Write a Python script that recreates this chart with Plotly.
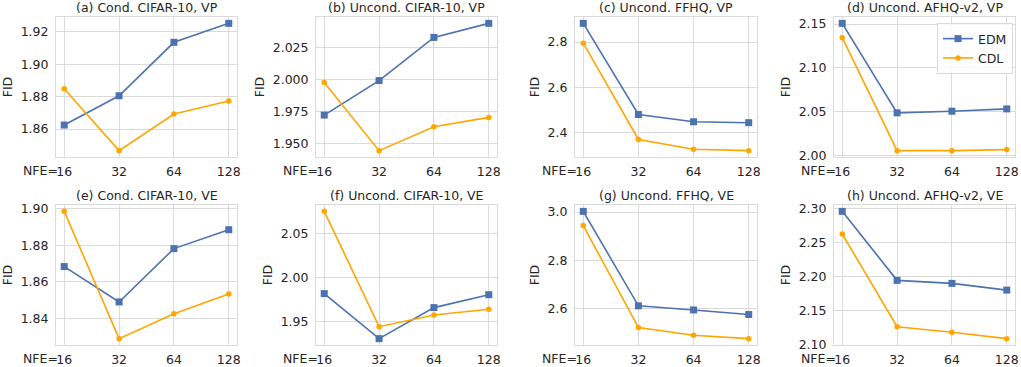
import plotly.graph_objects as go
import numpy as np

nfe = [16, 32, 64, 128]
nfe_labels = ["16", "32", "64", "128"]
nfe_prefix = "NFE="

titles = [
    "(a) Cond. CIFAR-10, VP", "(b) Uncond. CIFAR-10, VP",
    "(c) Uncond. FFHQ, VP", "(d) Uncond. AFHQ-v2, VP",
    "(e) Cond. CIFAR-10, VE", "(f) Uncond. CIFAR-10, VE",
    "(g) Uncond. FFHQ, VE", "(h) Uncond. AFHQ-v2, VE",
]

edm_a = [1.8625, 1.8806, 1.9136, 1.9253]
cdl_a = [1.8849, 1.8467, 1.8693, 1.8773]
edm_b = [1.9724, 1.9992, 2.0327, 2.0436]
cdl_b = [1.9977, 1.9448, 1.9634, 1.9706]
edm_c = [2.882, 2.481, 2.449, 2.445]
cdl_c = [2.795, 2.371, 2.328, 2.322]
edm_d = [2.1508, 2.0485, 2.0504, 2.0530]
cdl_d = [2.1344, 2.0053, 2.0053, 2.0065]
edm_e = [1.8684, 1.8491, 1.8782, 1.8885]
cdl_e = [1.8985, 1.8291, 1.8427, 1.8535]
edm_f = [1.9820, 1.9312, 1.9662, 1.9808]
cdl_f = [2.0748, 1.9447, 1.9579, 1.9643]
edm_g = [3.003, 2.611, 2.594, 2.575]
cdl_g = [2.944, 2.521, 2.489, 2.475]
edm_h = [2.2956, 2.1941, 2.1897, 2.1798]
cdl_h = [2.2623, 2.1259, 2.1177, 2.1084]

edm_all = [edm_a, edm_b, edm_c, edm_d, edm_e, edm_f, edm_g, edm_h]
cdl_all = [cdl_a, cdl_b, cdl_c, cdl_d, cdl_e, cdl_f, cdl_g, cdl_h]
dticks = [0.02, 0.025, 0.2, 0.05, 0.02, 0.05, 0.2, 0.05]
tfmts = [".2f", ".3f", ".1f", ".2f", ".2f", ".2f", ".1f", ".2f"]

W, H = 1021, 367
xdom_px = [(56, 237), (316, 497), (575, 757), (834, 1015)]
ydom_px = [(17, 157), (205, 345)]

EDM_C = "#4C72B0"
CDL_C = "#FFA500"
GRID = "#dadada"
TXT = "#262626"
FONT = "DejaVu Sans"
FS = 12.5

fig = go.Figure()
lx = np.log10(nfe)
span = float(lx[-1] - lx[0])
xr = [float(lx[0]) - 0.05 * span, float(lx[-1]) + 0.05 * span]

for i in range(8):
    r, c = divmod(i, 4)
    idx = "" if i == 0 else str(i + 1)
    xa, ya = "x" + idx, "y" + idx
    fig.add_trace(go.Scatter(
        x=nfe, y=edm_all[i], xaxis=xa, yaxis=ya, mode="lines+markers",
        name="EDM", legendgroup="EDM", showlegend=(i == 3),
        line=dict(color=EDM_C, width=1.6),
        marker=dict(symbol="square", size=7, color=EDM_C)))
    fig.add_trace(go.Scatter(
        x=nfe, y=cdl_all[i], xaxis=xa, yaxis=ya, mode="lines+markers",
        name="CDL", legendgroup="CDL", showlegend=(i == 3),
        line=dict(color=CDL_C, width=1.6),
        marker=dict(symbol="circle", size=5.5, color=CDL_C)))
    allv = edm_all[i] + cdl_all[i]
    lo, hi = min(allv), max(allv)
    pad = 0.05 * (hi - lo)
    x0, x1 = xdom_px[c]
    yt, yb = ydom_px[r]
    fig.layout["xaxis" + idx] = dict(
        type="log", domain=[x0 / W, x1 / W], range=xr, anchor=ya,
        tickvals=nfe, ticktext=nfe_labels, showgrid=True, gridcolor=GRID,
        gridwidth=1, showline=True, linecolor=GRID, mirror=True, ticks="",
        zeroline=False, tickfont=dict(family=FONT, size=FS, color=TXT),
        ticklabelstandoff=3, automargin=False)
    fig.layout["yaxis" + idx] = dict(
        domain=[1 - yb / H, 1 - yt / H], range=[lo - pad, hi + pad],
        anchor=xa, dtick=dticks[i], tick0=0, tickformat=tfmts[i],
        showgrid=True, gridcolor=GRID, gridwidth=1, showline=True,
        linecolor=GRID, mirror=True, ticks="", zeroline=False,
        tickfont=dict(family=FONT, size=FS, color=TXT), ticklabelstandoff=4,
        automargin=False,
        title=dict(text="FID", font=dict(family=FONT, size=FS, color=TXT), standoff=5))
    fig.add_annotation(
        text=titles[i], xref="paper", yref="paper",
        x=(x0 + x1) / 2 / W, y=1 - yt / H,
        xanchor="center", yanchor="bottom",
        yshift=0, showarrow=False, font=dict(family=FONT, size=FS, color=TXT))
    # "NFE=" prefix placed just left of the first tick label
    fig.add_annotation(
        text=nfe_prefix, xref=xa, yref="paper",
        x=float(np.log10(nfe[0])), y=1 - yb / H,
        xanchor="right", yanchor="middle", xshift=-4, yshift=-13,
        showarrow=False, font=dict(family=FONT, size=FS, color=TXT))

fig.update_layout(
    width=W, height=H, margin=dict(l=0, r=0, t=0, b=0),
    plot_bgcolor="white", paper_bgcolor="white",
    font=dict(family=FONT, size=FS, color=TXT),
    legend=dict(x=1013 / W, y=1 - 23 / H, xanchor="right", yanchor="top",
                bgcolor="rgba(255,255,255,0.8)", bordercolor=GRID, borderwidth=1,
                font=dict(family=FONT, size=FS, color=TXT), itemwidth=30,
                tracegroupgap=0),
)

fig.write_html("out.html", config={"displayModeBar": False},
               post_script="document.body.style.margin='0';document.body.style.overflow='hidden';")
